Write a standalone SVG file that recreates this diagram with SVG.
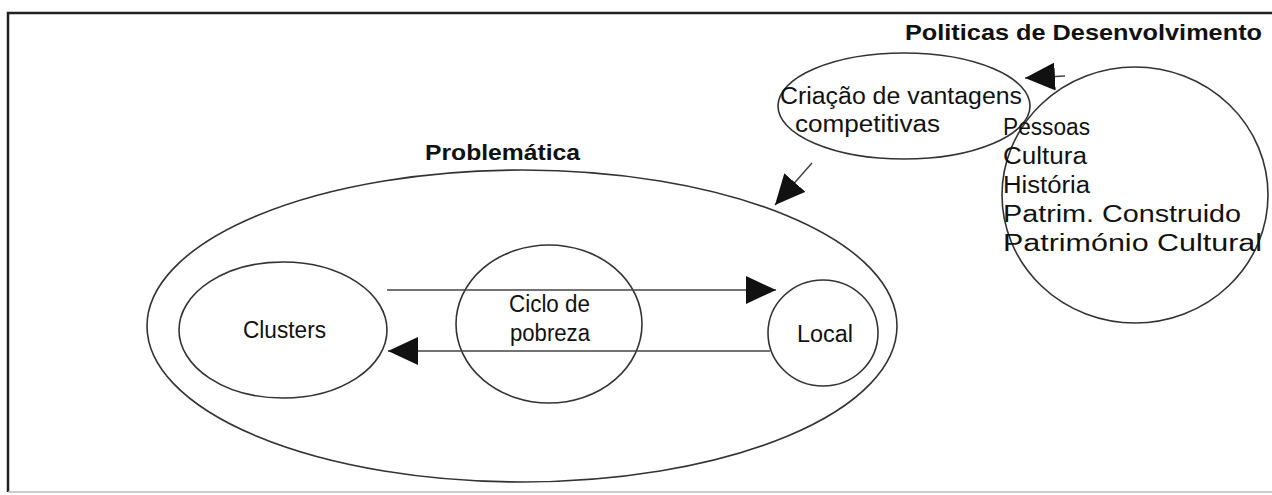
<svg xmlns="http://www.w3.org/2000/svg" width="1272" height="495" viewBox="0 0 1272 495">
<defs>
<marker id="ah" viewBox="0 0 30 28" refX="30" refY="14" markerWidth="30" markerHeight="28" markerUnits="userSpaceOnUse" orient="auto">
<path d="M0,0 L30,14 L0,28 z" fill="#111"/>
</marker>
<style>
.sh{fill:none;stroke:#333;stroke-width:1.6}
.t{font-family:"Liberation Sans",Arial,sans-serif;font-size:23px;fill:#111}
.b{font-weight:bold;font-size:22px}
.c{fill:none;stroke:#444;stroke-width:1.5}
</style>
</defs>
<rect width="1272" height="495" fill="#fff"/>
<path d="M8,492 L8,13 L1272,13" fill="none" stroke="#222" stroke-width="2.5"/>
<path d="M8,492 L1272,492" fill="none" stroke="#bbb" stroke-width="1.5"/>

<g id="politicas-title">
<text class="t b" x="905" y="40" textLength="357" lengthAdjust="spacingAndGlyphs">Politicas de Desenvolvimento</text>
</g>
<g id="criacao">
<ellipse class="sh" cx="904" cy="106" rx="126" ry="53"/>
<text class="t" x="780" y="104" textLength="242" lengthAdjust="spacingAndGlyphs">Criação de vantagens</text>
<text class="t" x="795" y="132" textLength="145" lengthAdjust="spacingAndGlyphs">competitivas</text>
</g>
<g id="pessoas">
<ellipse class="sh" cx="1135" cy="195" rx="133" ry="128"/>
<text class="t" x="1003" y="135" textLength="87" lengthAdjust="spacingAndGlyphs">Pessoas</text>
<text class="t" x="1003" y="164" textLength="84" lengthAdjust="spacingAndGlyphs">Cultura</text>
<text class="t" x="1003" y="193" textLength="87" lengthAdjust="spacingAndGlyphs">História</text>
<text class="t" x="1003" y="222" textLength="238" lengthAdjust="spacingAndGlyphs">Patrim. Construido</text>
<text class="t" x="1003" y="251" textLength="259" lengthAdjust="spacingAndGlyphs">Património Cultural</text>
</g>
<g id="problematica">
<text class="t b" x="425" y="160" textLength="155" lengthAdjust="spacingAndGlyphs">Problemática</text>
<ellipse class="sh" cx="522" cy="326" rx="375" ry="156"/>
</g>
<g id="clusters">
<ellipse class="sh" cx="283" cy="330" rx="104" ry="68"/>
<text class="t" x="243" y="338" textLength="83" lengthAdjust="spacingAndGlyphs">Clusters</text>
</g>
<g id="ciclo">
<ellipse class="sh" cx="549" cy="324" rx="93" ry="79"/>
<text class="t" x="509" y="312" textLength="81" lengthAdjust="spacingAndGlyphs">Ciclo de</text>
<text class="t" x="510" y="341" textLength="80" lengthAdjust="spacingAndGlyphs">pobreza</text>
</g>
<g id="local">
<ellipse class="sh" cx="823" cy="333" rx="55" ry="53"/>
<text class="t" x="797" y="342" textLength="56" lengthAdjust="spacingAndGlyphs">Local</text>
</g>
<g id="connectors">
<line class="c" x1="387" y1="290" x2="776" y2="290" marker-end="url(#ah)"/>
<line class="c" x1="770" y1="351" x2="388" y2="351" marker-end="url(#ah)"/>
<line class="c" x1="812" y1="163" x2="775" y2="205" marker-end="url(#ah)"/>
<line class="c" x1="1065" y1="76" x2="1025" y2="78" marker-end="url(#ah)"/>
</g>
</svg>
